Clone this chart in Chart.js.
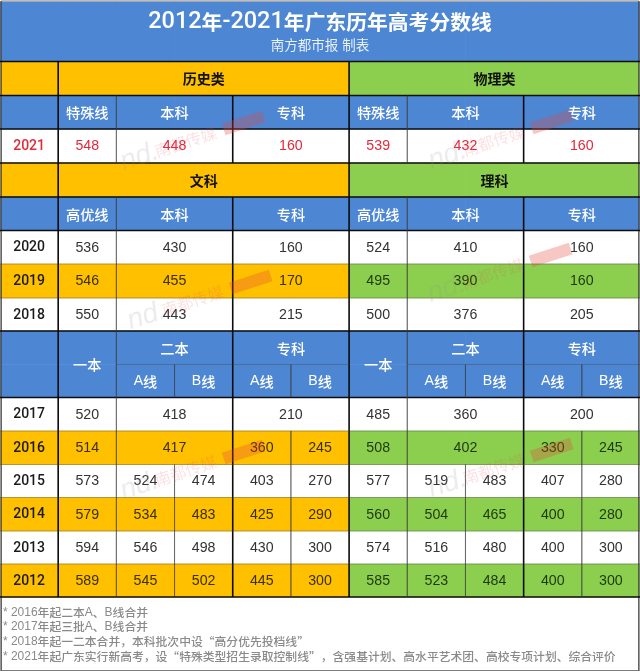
<!DOCTYPE html>
<html><head><meta charset="utf-8">
<style>html,body{margin:0;padding:0;background:#fff}canvas{display:block;filter:blur(0.3px)}</style>
<script src="https://cdn.jsdelivr.net/npm/chart.js@4/dist/chart.umd.min.js"></script>
</head><body><canvas id="c" width="640" height="672"></canvas>
<script>
const chartTitle = '2012年-2021年广东历年高考分数线';
const chartSubtitle = '南方都市报 制表';
const notes = ['* 2016年起二本A、B线合并','* 2017年起三批A、B线合并','* 2018年起一二本合并，本科批次中设“高分优先投档线”','* 2021年起广东实行新高考，设“特殊类型招生录取控制线”，含强基计划、高水平艺术团、高校专项计划、综合评价'];
const years2021 = ['2021'];
const history2021 = [548,448,160];
const physics2021 = [539,432,160];
const years2018to2020 = ['2020','2019','2018'];
const wen2018to2020 = [[536,430,160],[546,455,170],[550,443,215]];
const li2018to2020 = [[524,410,160],[495,390,160],[500,376,205]];
const wen2017 = [520,418,210];
const li2017 = [485,360,200];
const wen2016 = [514,417,360,245];
const li2016 = [508,402,330,245];
const years2012to2015 = ['2015','2014','2013','2012'];
const wen2012to2015 = [[573,524,474,403,270],[579,534,483,425,290],[594,546,498,430,300],[589,545,502,445,300]];
const li2012to2015 = [[577,519,483,407,280],[560,504,465,400,280],[574,516,480,400,300],[585,523,484,400,300]];

// table geometry, in units of the two hidden axes
const rowEdges = [61.5,95.5,129,163,197,230.5,264,298,331,364.5,397.5,431,464.5,497.5,531,564,597];
const BLUE='#4d87d4', ORANGE='#ffc000', GREEN='#8ccf4e', WHITE='#ffffff';
const rowFills = [[ORANGE,GREEN],[BLUE,BLUE],[WHITE,WHITE],[ORANGE,GREEN],[BLUE,BLUE],[WHITE,WHITE],[ORANGE,GREEN],[WHITE,WHITE],[BLUE,BLUE],[BLUE,BLUE],[WHITE,WHITE],[ORANGE,GREEN],[WHITE,WHITE],[ORANGE,GREEN],[WHITE,WHITE],[ORANGE,GREEN]];

const cellsByColour = {[BLUE]:[],[ORANGE]:[],[GREEN]:[],[WHITE]:[]};
for(let c=0;c<11;c++) cellsByColour[BLUE].push({x:c+.5,y:[2,rowEdges[0]]});
rowFills.forEach((f,r)=>{for(let c=0;c<11;c++) cellsByColour[c<6?f[0]:f[1]].push({x:c+.5,y:[rowEdges[r],rowEdges[r+1]]});});
const barSets = Object.keys(cellsByColour).map(col=>({type:'bar',order:2,data:cellsByColour[col],backgroundColor:col,borderWidth:0,borderSkipped:false,grouped:false,barPercentage:1,categoryPercentage:1}));

function pts(list){const a=[];list.forEach(([x0,y0,x1,y1])=>{a.push({x:x0,y:y0},{x:x1,y:y1},{x:x1,y:null});});return a;}
const E=rowEdges;
const blackRules=[];[0,1,2,3,4,5,8,10,16].forEach(i=>blackRules.push([0,E[i],11,E[i]]));
[1,6].forEach(x=>blackRules.push([x,E[0],x,E[16]]));
[4,9].forEach(x=>{blackRules.push([x,E[1],x,E[3]],[x,E[4],x,E[16]]);});
const thinRules=[];[6,7,11,12,13,14,15].forEach(i=>thinRules.push([0,E[i],11,E[i]]));
thinRules.push([2,E[9],6,E[9]],[7,E[9],11,E[9]]);
[2,7].forEach(x=>{thinRules.push([x,E[1],x,E[3]],[x,E[4],x,E[16]]);});
[3,8].forEach(x=>{thinRules.push([x,E[9],x,E[10]],[x,E[12],x,E[16]]);});
[5,10].forEach(x=>{thinRules.push([x,E[9],x,E[10]],[x,E[11],x,E[16]]);});
const frameRules=[[0.02,1,10.98,1],[0.02,1,0.02,671],[10.98,1,10.98,671],[0.02,670.5,10.98,670.5]];
function ruleSet(list,color,w){return {type:'line',order:1,data:pts(list),borderColor:color,borderWidth:w,pointRadius:0,spanGaps:false,tension:0,fill:false};}

// text placement
const labels=[];
function put(text,cx,r,o){labels.push(Object.assign({text,cx,r},o));}
const HEAD={color:'#ffffff',size:14.2,weight:'500',fam:'Liberation Sans'}, GROUP={color:'#111111',size:14,weight:'700',fam:'Liberation Sans'};
function valuesRow(r,start,spans,vals,o){let c=start;vals.forEach((v,i)=>{put(String(v),c+spans[i]/2,r,o);c+=spans[i];});}
const SP3=[1,2,2],SP4=[1,2,1,1],SP5=[1,1,1,1,1];
const NUM={color:'#333333',size:14.2,weight:'400',fam:'Liberation Sans'}, YEAR={color:'#1a1a1a',size:14,weight:'500',fam:'Roboto'}, RED={color:'#e4283c',size:14.2,weight:'400',fam:'Liberation Sans'};
const ONC={color:'#3a3000',size:14.2,weight:'400',fam:'Liberation Sans'}, ONG={color:'#1f3810',size:14.2,weight:'400',fam:'Liberation Sans'};
const pick=(r,side)=>rowFills[r][side]===WHITE?NUM:(side?ONG:ONC);
put('历史类',3.5,0,GROUP);put('物理类',8.5,0,GROUP);
['特殊线','本科','专科'].forEach((t,i)=>{const c=[1.5,3,5][i];put(t,c,1,HEAD);put(t,c+5,1,HEAD);});
put(years2021[0],.5,2,{color:'#e4283c',size:14,weight:'500',fam:'Roboto'});
valuesRow(2,1,SP3,history2021,RED);valuesRow(2,6,SP3,physics2021,RED);
put('文科',3.5,3,GROUP);put('理科',8.5,3,GROUP);
['高优线','本科','专科'].forEach((t,i)=>{const c=[1.5,3,5][i];put(t,c,4,HEAD);put(t,c+5,4,HEAD);});
years2018to2020.forEach((y,i)=>{const r=5+i;put(y,.5,r,YEAR);valuesRow(r,1,SP3,wen2018to2020[i],pick(r,0));valuesRow(r,6,SP3,li2018to2020[i],pick(r,1));});
[0,5].forEach(d=>{put('一本',1.5+d,8.5,HEAD);put('二本',3+d,8,HEAD);put('专科',5+d,8,HEAD);['A线','B线','A线','B线'].forEach((t,i)=>put(t,2.5+i+d,9,HEAD));});
put('2017',.5,10,YEAR);valuesRow(10,1,SP3,wen2017,NUM);valuesRow(10,6,SP3,li2017,NUM);
put('2016',.5,11,YEAR);valuesRow(11,1,SP4,wen2016,ONC);valuesRow(11,6,SP4,li2016,ONG);
years2012to2015.forEach((y,i)=>{const r=12+i;put(y,.5,r,YEAR);valuesRow(r,1,SP5,wen2012to2015[i],pick(r,0));valuesRow(r,6,SP5,li2012to2015[i],pick(r,1));});

const marks=[[133,161],[441,160],[140,320],[440,293],[133,490],[441,488]];

function runs(s){return s.match(/[0-9A-Za-z\-\* ]+|[^0-9A-Za-z\-\* ]+/g)||[];}
function drawMixed(ctx,s,x,y,latin,cjk,weight,color,align,fam,cjkWeight){
  const family=fam||'Liberation Sans';
  const parts=runs(s).map(t=>{const isL=/^[0-9A-Za-z\-\* ]/.test(t);return {t,font:isL?`${weight} ${latin}px "${family}"`:`${cjkWeight||weight} ${cjk}px "Noto Sans CJK SC"`};});
  let w=0;parts.forEach(p=>{ctx.font=p.font;p.w=ctx.measureText(p.t).width;w+=p.w;});
  let px=align==='left'?x:x-w/2;
  ctx.fillStyle=color;ctx.textAlign='left';ctx.textBaseline='middle';
  parts.forEach(p=>{ctx.font=p.font;ctx.fillText(p.t,px,y);px+=p.w;});
}
const textPlugin={id:'tableText',afterDatasetsDraw(chart){
  const ctx=chart.ctx,X=chart.scales.x,Y=chart.scales.y;
  ctx.save();
  drawMixed(ctx,chartTitle,X.getPixelForValue(5.5),Y.getPixelForValue(22.5),23.5,20.8,'500','#ffffff',null,'Roboto','700');
  drawMixed(ctx,chartSubtitle,X.getPixelForValue(5.5),Y.getPixelForValue(44.5),13.5,13.5,'400','#eaf1fb');
  labels.forEach(l=>{
    const f=Math.floor(l.r),yv=l.r===f?(rowEdges[f]+rowEdges[f+1])/2:rowEdges[f+1];
    drawMixed(ctx,l.text,X.getPixelForValue(l.cx),Y.getPixelForValue(yv+0.5),l.size,l.size,l.weight,l.color,null,l.fam);
  });
  [612.5,627,642,657].forEach((yv,i)=>drawMixed(ctx,notes[i],X.getPixelForValue(0.05),Y.getPixelForValue(yv),12,11.8,'500','#8a8a8a','left'));
  // watermarks
  marks.forEach(([mx,my])=>{
    ctx.save();ctx.translate(X.getPixelForValue(mx/640*11),Y.getPixelForValue(my));ctx.rotate(-18*Math.PI/180);
    ctx.textBaseline='middle';ctx.textAlign='left';
    ctx.font='italic 28px "Liberation Sans"';ctx.fillStyle='rgba(150,150,150,0.18)';ctx.fillText('nd.',-12,-2);
    ctx.font='16px "Noto Sans CJK SC"';ctx.fillStyle='rgba(228,70,80,0.16)';ctx.fillText('南都传媒',24,-2);
    ctx.fillStyle='rgba(228,70,60,0.3)';ctx.fillRect(96,-8,42,12);
    ctx.restore();
  });
  ctx.restore();
}};

new Chart(document.getElementById('c'),{
  type:'bar',
  data:{datasets:[...barSets,ruleSet(thinRules,'rgba(60,60,60,0.4)',1),ruleSet(blackRules,'#0c0c0c',1.6),ruleSet(frameRules,'rgba(80,80,80,0.75)',1)]},
  plugins:[textPlugin],
  options:{responsive:false,animation:false,devicePixelRatio:1,layout:{padding:0},
    plugins:{legend:{display:false},tooltip:{enabled:false},title:{display:false}},
    scales:{x:{type:'linear',offset:false,min:0,max:11,display:false,ticks:{stepSize:1}},
            y:{type:'linear',min:0,max:672,reverse:true,display:false}}}
});
</script></body></html>
